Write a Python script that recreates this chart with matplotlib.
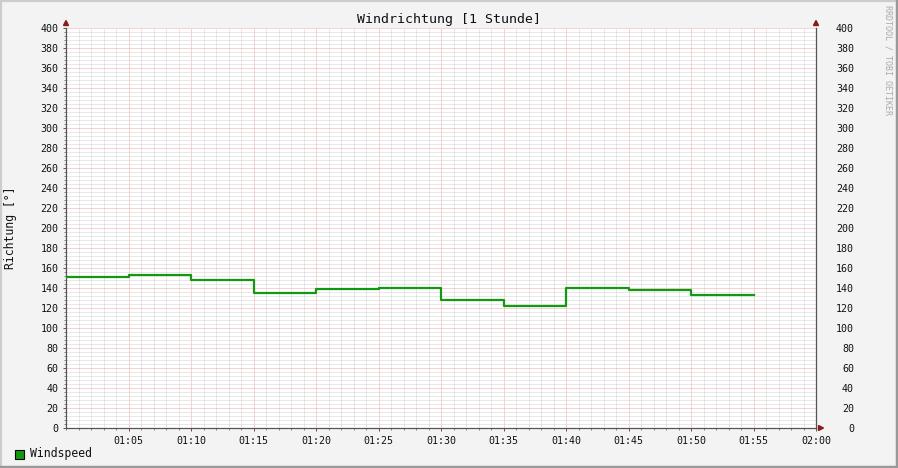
import numpy as np
import matplotlib
matplotlib.use("Agg")
from matplotlib import pyplot as plt
import matplotlib.transforms as mtrans
from matplotlib.patches import Rectangle, Polygon
from matplotlib.ticker import MultipleLocator, FixedLocator

# Minuten seit 01:00, Beginn jedes 5-Minuten-Intervalls
minuten = [0, 5, 10, 15, 20, 25, 30, 35, 40, 45, 50, 55]
richtung = [151.5, 153.5, 148.3, 135.3, 139.0, 140.3, 127.7, 122.3, 140.0, 138.3, 132.7, 132.7]
x_labels = ["01:05", "01:10", "01:15", "01:20", "01:25", "01:30",
            "01:35", "01:40", "01:45", "01:50", "01:55", "02:00"]
y_ticks = list(range(0, 401, 20))

W, H = 898, 468
plt.rcParams["font.family"] = ["DejaVu Sans Mono"]
fig = plt.figure(figsize=(W / 100, H / 100), dpi=100, facecolor="#f3f3f3")

x0, x1, y0, y1 = 66, 816, 28, 428
ax = fig.add_axes([x0 / W, 1 - y1 / H, (x1 - x0) / W, (y1 - y0) / H])
ax.set_facecolor("white")
ax.set_xlim(0, 60)
ax.set_ylim(0, 400)

# Gitter (punktiert)
dot = (0, (1, 1))
grau, rot = "#d2d2d2", "#f2a4a4"
for m in range(1, 60):
    ax.axvline(m, color=grau if m % 5 else rot, lw=0.72, ls=dot, zorder=1)
for v in range(4, 401, 4):
    ax.axhline(v, color=grau if v % 20 else rot, lw=0.72, ls=dot, zorder=1)

# Daten
ax.plot(minuten, richtung, drawstyle="steps-post", color="#119911", lw=1.6, zorder=3)

# Achsen
ax.spines["top"].set_visible(False)
for s in ["left", "right", "bottom"]:
    ax.spines[s].set_color("#555555")
    ax.spines[s].set_linewidth(0.9)

ax.xaxis.set_major_locator(FixedLocator(list(range(5, 61, 5))))
ax.set_xticklabels(x_labels)
ax.yaxis.set_major_locator(FixedLocator(y_ticks))
ax.yaxis.set_minor_locator(MultipleLocator(4))
ax.xaxis.set_minor_locator(MultipleLocator(1))
ax.tick_params(axis="both", which="both", direction="out", color="#555555", labelsize=7.2,
               labelcolor="#111111")
ax.tick_params(axis="both", which="major", length=2.5, width=0.7)
ax.tick_params(axis="both", which="minor", length=1.2, width=0.5)
ax.tick_params(axis="x", which="major", pad=3)
ax.tick_params(axis="y", which="both", right=False, labelright=True, pad=3)

fig.canvas.draw()
for t in ax.yaxis.get_major_ticks():
    t.label2.set_horizontalalignment("right")
    t.label2.set_transform(ax.get_yaxis_transform()
                           + mtrans.ScaledTranslation(38 / 100, 0, fig.dpi_scale_trans))

fig.text(11 / W, 1 - 228 / H, "Richtung [°]", rotation=90, ha="center", va="center",
         fontsize=8.3, color="#111111")
fig.text(0.5, 1 - 19 / H, "Windrichtung [1 Stunde]", ha="center", va="center",
         fontsize=9.5, color="#111111")
fig.text(888 / W, 1 - 5 / H, "RRDTOOL / TOBI OETIKER", rotation=270, ha="center", va="top",
         fontsize=6, color="#aaaaaa")

# Pfeile
pfeil = "#8b1a1a"
def dreieck(pts):
    fig.patches.append(Polygon([(px / W, 1 - py / H) for px, py in pts], closed=True,
                               transform=fig.transFigure, color=pfeil, zorder=5))
dreieck([(63.5, 25.5), (68.5, 25.5), (66, 20.5)])
dreieck([(813.5, 25.5), (818.5, 25.5), (816, 20.5)])
dreieck([(818.5, 425.5), (818.5, 430.5), (823.5, 428)])

# Legende
fig.patches.append(Rectangle((15 / W, 1 - 459 / H), 9 / W, 9 / H, transform=fig.transFigure,
                             facecolor="#119911", edgecolor="black", lw=0.8))
fig.text(30 / W, 1 - 454 / H, "Windspeed", ha="left", va="center", fontsize=8.3, color="#111111")

# Rahmen
fig.patches.append(Rectangle((0, 0), 1, 1, transform=fig.transFigure, fill=False,
                             edgecolor="#cccccc", lw=3))
fig.patches.append(Rectangle((0, 0), 1, 2 / H, transform=fig.transFigure, color="#999999"))
fig.patches.append(Rectangle((1 - 2 / W, 0), 2 / W, 1, transform=fig.transFigure, color="#999999"))

fig.savefig("out.png", dpi=100, facecolor=fig.get_facecolor())
